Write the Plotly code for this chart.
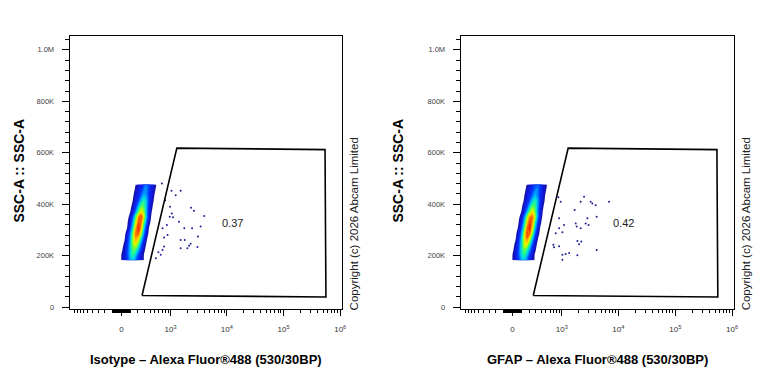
import numpy as np
import plotly.graph_objects as go

# ---------------- data ----------------
# biexponential-like display (FlowJo style) width parameter
W_LIN = 138.0

x_major_vals = [0, 1e3, 1e4, 1e5, 1e6]
x_major_text = ["0", "10<sup>3</sup>", "10<sup>4</sup>", "10<sup>5</sup>", "10<sup>6</sup>"]
y_major_vals = [0, 200000, 400000, 600000, 800000, 1000000]
y_major_text = ["0", "200K", "400K", "600K", "800K", "1.0M"]
x_limits = [-1110, 1.085e6]
y_limits = [-6000, 1055000]

# density grid of the main population (fluorescence bins x SSC bins)
cloud_cols = [-35, 0, 35, 65, 100, 135, 170, 210, 250, 290, 335, 380, 430, 480, 540, 600]
cloud_rows = [182000, 203000, 224000, 245000, 266000, 287000, 308000, 329000,
              350000, 371000, 392000, 413000, 434000, 455000, 476000]

iso_cloud = [
    [0, 1, 2, 3, 4.5, 5, 4, 2.5, 2, 1, 0, 0, 0, 0, 0, 0],
    [0, 1, 2, 3.3, 5, 6, 5.1, 3.4, 2, 1, 0, 0, 0, 0, 0, 0],
    [0, 0.6, 1.7, 3.1, 5, 6.5, 6.4, 4.8, 2.9, 1.5, 0.4, 0, 0, 0, 0, 0],
    [0, 0.2, 1.3, 2.8, 4.9, 7, 7.8, 6.3, 4, 2.1, 0.8, 0, 0, 0, 0, 0],
    [0, 0, 0.8, 2.4, 4.5, 7.1, 8.7, 7.9, 5.5, 3.2, 1.3, 0.2, 0, 0, 0, 0],
    [0, 0, 0.4, 1.9, 4, 6.8, 9.2, 9.4, 7.2, 4.2, 2.1, 0.6, 0, 0, 0, 0],
    [0, 0, 0, 1, 3, 5.6, 8.5, 10, 8.4, 5.4, 2.9, 1, 0, 0, 0, 0],
    [0, 0, 0, 0.7, 2.3, 4.7, 7.5, 9.5, 9, 6.5, 3.8, 1.7, 0.3, 0, 0, 0],
    [0, 0, 0, 0.3, 1.6, 3.8, 6.4, 9, 9.6, 7.6, 4.7, 2.4, 0.7, 0, 0, 0],
    [0, 0, 0, 0, 0.9, 2.3, 4.2, 6.6, 7.9, 6.9, 4.6, 2.6, 1.1, 0.1, 0, 0],
    [0, 0, 0, 0, 0.5, 1.6, 3, 5, 6.5, 6.4, 4.8, 2.9, 1.5, 0.5, 0, 0],
    [0, 0, 0, 0, 0, 1.1, 2.2, 3.5, 5.2, 5.9, 4.9, 3.1, 1.9, 0.9, 0, 0],
    [0, 0, 0, 0, 0, 0.8, 1.8, 2.6, 3.9, 4.8, 4.4, 3.1, 2.2, 1.2, 0.2, 0],
    [0, 0, 0, 0, 0, 0.4, 1.4, 2.2, 3, 4.1, 4.2, 3.3, 2.3, 1.6, 0.6, 0],
    [0, 0, 0, 0, 0, 0, 1, 2, 2.2, 3.4, 4, 3.4, 2.2, 2, 1, 0],
]

gfap_cloud = [
    [0.5, 1, 2, 3, 4.5, 5, 4, 2.5, 1.6, 0.8, 0, 0, 0, 0, 0, 0],
    [0, 1, 2, 3.4, 5.2, 6, 5, 3.2, 1.8, 0.8, 0, 0, 0, 0, 0, 0],
    [0, 0.6, 1.8, 3.3, 5.3, 6.8, 6.2, 4.4, 2.6, 1.3, 0.3, 0, 0, 0, 0, 0],
    [0, 0.3, 1.4, 3, 5.2, 7.4, 7.9, 6, 3.6, 1.8, 0.6, 0, 0, 0, 0, 0],
    [0, 0, 0.9, 2.5, 4.8, 7.6, 9, 7.6, 5, 2.8, 1.1, 0.1, 0, 0, 0, 0],
    [0, 0, 0.5, 2, 4.2, 7.2, 9.6, 9.3, 6.8, 3.8, 1.8, 0.5, 0, 0, 0, 0],
    [0, 0, 0, 1.2, 3.2, 6, 9, 10, 8, 5, 2.6, 0.9, 0, 0, 0, 0],
    [0, 0, 0, 0.8, 2.5, 5, 8, 9.8, 8.7, 6, 3.4, 1.5, 0.2, 0, 0, 0],
    [0, 0, 0, 0.4, 1.8, 4, 6.8, 9, 9.2, 7.2, 4.3, 2.1, 0.6, 0, 0, 0],
    [0, 0, 0, 0, 1, 2.5, 4.5, 6.8, 7.8, 6.6, 4.3, 2.4, 1, 0, 0, 0],
    [0, 0, 0, 0, 0.6, 1.8, 3.2, 5.2, 6.6, 6.2, 4.5, 2.7, 1.3, 0.4, 0, 0],
    [0, 0, 0, 0, 0.1, 1.2, 2.4, 3.7, 5.3, 5.8, 4.7, 2.9, 1.7, 0.8, 0, 0],
    [0, 0, 0, 0, 0, 0.9, 2, 2.8, 4, 4.8, 4.2, 2.9, 2, 1, 0.1, 0],
    [0, 0, 0, 0, 0, 0.5, 1.5, 2.3, 3.1, 4.1, 4.1, 3.1, 2.1, 1.4, 0.4, 0],
    [0, 0, 0, 0, 0, 0, 1.1, 2, 2.4, 3.4, 3.9, 3.2, 2.1, 1.7, 0.8, 0],
]

# sparse events to the right of the population
iso_out_fl = [690, 1040, 1525, 1240, 795, 980, 2330, 2630, 1050, 3990, 965, 1110, 1420, 855,
              3450, 1770, 2430, 710, 880, 760, 3100, 1525, 1800, 2290, 2150, 760, 2000, 1525,
              3030, 710, 590, 655, 525]
iso_out_ssc = [480000, 452000, 452000, 435000, 415000, 390000, 386000, 374000, 364000, 354000,
               351000, 349000, 332000, 319000, 313000, 306000, 306000, 306000, 280000, 270000,
               274000, 261000, 261000, 246000, 238000, 235000, 229000, 229000, 233000, 222000,
               213000, 203000, 190000]
gfap_out_fl = [952, 889, 1096, 1700, 2170, 2490, 3260, 3490, 3990, 6860, 2850, 2660, 4160, 1770,
               1845, 770, 1021, 695, 715, 889, 1021, 1173, 1350, 1896, 2030, 2230, 1896, 4160,
               1021, 862, 889, 2170, 2990]
gfap_out_ssc = [409000, 345000, 319000, 377000, 409000, 429000, 409000, 403000, 396000, 409000,
                345000, 325000, 351000, 325000, 313000, 287000, 291000, 242000, 232000, 236000,
                203000, 206000, 210000, 257000, 244000, 255000, 201000, 222000, 184000, 427000,
                306000, 306000, 319000]

# gate polygon (same gate on both samples) and its statistic
gate_fl = [260, 1300, 540000, 560000, 260]
gate_ssc = [45000, 618000, 612000, 39000, 45000]
gate_pct = ["0.37", "0.42"]
gate_label_fl = 12500
gate_label_ssc = 328000

x_titles = ["Isotype \u2013 Alexa Fluor\u00ae488 (530/30BP)", "GFAP \u2013 Alexa Fluor\u00ae488 (530/30BP)"]
y_title = "SSC-A :: SSC-A"
copyright_text = "Copyright (c) 2026 Abcam Limited"


def biex(v):
    v = np.asarray(v, dtype=float)
    return (np.arcsinh(v / (2 * W_LIN)) / np.log(10)).tolist()


# minor tick structure of the biexponential axis
x_minor_vals = []
for e in [1, 2]:
    for k in range(1, 10):
        x_minor_vals += [-k * 10 ** e, k * 10 ** e]
for e in [3, 4, 5]:
    for k in range(2, 10):
        x_minor_vals.append(k * 10 ** e)

FONT = "Liberation Sans, Arial, sans-serif"
jet = [
    [0.0, "rgba(255,255,255,0)"],
    [0.045, "rgba(255,255,255,0)"],
    [0.05, "rgb(20,20,150)"],
    [0.15, "rgb(20,20,220)"],
    [0.3, "rgb(0,60,255)"],
    [0.42, "rgb(0,160,255)"],
    [0.52, "rgb(0,230,220)"],
    [0.62, "rgb(60,255,100)"],
    [0.72, "rgb(200,255,0)"],
    [0.8, "rgb(255,220,0)"],
    [0.9, "rgb(255,120,0)"],
    [1.0, "rgb(230,20,20)"],
]

fig = go.Figure()

panels = [
    ("x", "y", iso_cloud, iso_out_fl, iso_out_ssc),
    ("x2", "y2", gfap_cloud, gfap_out_fl, gfap_out_ssc),
]
for xa, ya, cloud, ofl, ossc in panels:
    fig.add_trace(go.Contour(x=biex(cloud_cols), y=cloud_rows, z=cloud, xaxis=xa, yaxis=ya,
                             colorscale=jet, zmin=0, zmax=10, showscale=False, hoverinfo="skip",
                             contours=dict(start=0.5, end=10, size=0.5, coloring="fill",
                                           showlines=False),
                             line=dict(width=0, smoothing=1.3)))
    fig.add_trace(go.Scatter(x=biex(ofl), y=ossc, mode="markers", xaxis=xa, yaxis=ya,
                             marker=dict(size=2, color="rgb(30,30,150)", line=dict(width=0)),
                             hoverinfo="skip"))
    fig.add_trace(go.Scatter(x=biex(gate_fl), y=gate_ssc, mode="lines", xaxis=xa, yaxis=ya,
                             line=dict(color="black", width=1.6), hoverinfo="skip"))

W, H = 768, 384
px1 = [70, 344]
px2 = [463, 738]
ytop, ybot = 36, 311
ydom = [1 - ybot / H, 1 - ytop / H]


def xcfg(px, anchor):
    return dict(domain=[px[0] / W, px[1] / W], anchor=anchor,
                range=biex(x_limits), tickmode="array", tickvals=biex(x_major_vals),
                ticktext=x_major_text, ticks="outside", ticklen=6, tickwidth=1, tickcolor="black",
                showline=True, linecolor="black", linewidth=1, mirror=True,
                showgrid=False, zeroline=False, ticklabelstandoff=7,
                tickfont=dict(family=FONT, size=8, color="#333"),
                minor=dict(tickmode="array", tickvals=biex(x_minor_vals), ticks="outside",
                           ticklen=3, tickwidth=1, tickcolor="black", showgrid=False))


def ycfg(anchor):
    return dict(domain=ydom, anchor=anchor, range=y_limits, tickmode="array",
                tickvals=y_major_vals, ticktext=y_major_text, ticks="outside", ticklen=7,
                tickwidth=1, tickcolor="black", showline=True, linecolor="black", linewidth=1,
                mirror=True, showgrid=False, zeroline=False, ticklabelstandoff=6,
                tickfont=dict(family=FONT, size=7.5, color="#444"),
                minor=dict(tick0=0, dtick=40000, ticks="outside", ticklen=3.5, tickwidth=1,
                           tickcolor="black", showgrid=False))


annotations = []
for i, (px, xref, yref, ytx) in enumerate([(px1, "x", "y", 19), (px2, "x2", "y2", 400)]):
    annotations.append(dict(text=f"<b>{x_titles[i]}</b>", x=(px[0] + px[1]) / 2 / W, y=1 - 362 / H,
                            xref="paper", yref="paper", xanchor="center", yanchor="middle",
                            showarrow=False, font=dict(family=FONT, size=13, color="black")))
    annotations.append(dict(text=f"<b>{y_title}</b>", x=ytx / W, y=1 - 172 / H, textangle=-90,
                            xref="paper", yref="paper", xanchor="center", yanchor="middle",
                            showarrow=False, font=dict(family=FONT, size=14, color="black")))
    annotations.append(dict(text=copyright_text, x=(px[1] + 12) / W, y=1 - 226 / H, textangle=-90,
                            xref="paper", yref="paper", xanchor="center", yanchor="middle",
                            showarrow=False, font=dict(family=FONT, size=11.5, color="#222")))
    annotations.append(dict(text=gate_pct[i], x=biex([gate_label_fl])[0], y=gate_label_ssc,
                            xref=xref, yref=yref, xanchor="center", yanchor="middle",
                            showarrow=False, font=dict(family=FONT, size=11, color="#222")))

fig.update_layout(
    width=W, height=H, margin=dict(l=0, r=0, t=0, b=0),
    paper_bgcolor="white", plot_bgcolor="white", showlegend=False,
    xaxis=xcfg(px1, "y"), yaxis=ycfg("x"),
    xaxis2=xcfg(px2, "y2"), yaxis2=ycfg("x2"),
    annotations=annotations,
)

fig.write_html("out.html")
